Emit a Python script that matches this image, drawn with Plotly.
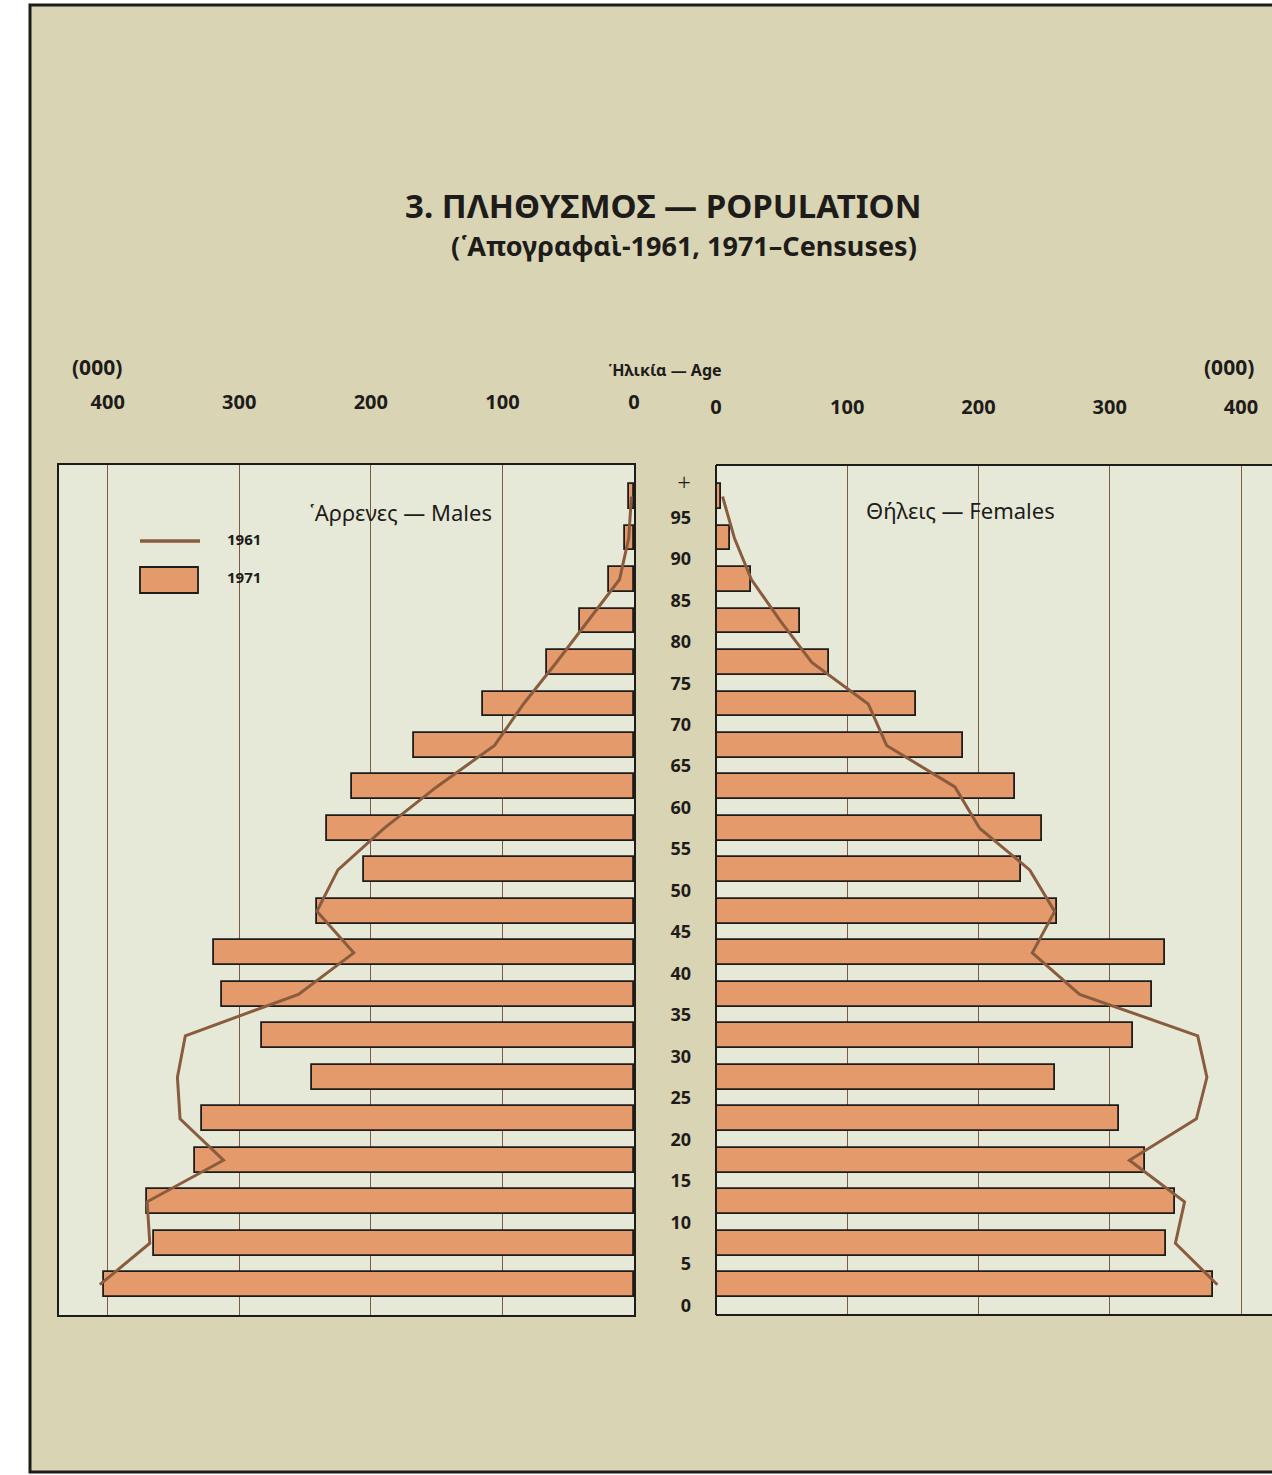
import plotly.graph_objects as go

# ---------------- data ----------------
age_groups = [2.5, 7.5, 12.5, 17.5, 22.5, 27.5, 32.5, 37.5, 42.5, 47.5,
              52.5, 57.5, 62.5, 67.5, 72.5, 77.5, 82.5, 87.5, 92.5, 97.5]
males_1971 = [403, 365, 370, 334, 328, 245, 283, 313, 319, 241,
              205, 233, 214, 167, 115, 66, 41, 19, 7, 4]
females_1971 = [379, 343, 350, 327, 307, 258, 318, 332, 342, 260,
                232, 248, 228, 188, 152, 86, 64, 27, 11, 4]
males_1961 = [406, 368, 370, 312, 345, 347, 341, 255, 213, 241,
              225, 190, 150, 106, 84, 59, 35, 11, 4, 2]
females_1961 = [382, 350, 357, 315, 366, 374, 367, 277, 241, 258,
                239, 201, 182, 130, 116, 73, 49, 27, 14, 5]
age_tick_vals = [0, 5, 10, 15, 20, 25, 30, 35, 40, 45, 50, 55, 60, 65, 70, 75, 80, 85, 90, 95, 98.9]
age_tick_text = ["0", "5", "10", "15", "20", "25", "30", "35", "40", "45", "50",
                 "55", "60", "65", "70", "75", "80", "85", "90", "95",
                 "<span style='font-size:24px;font-weight:300'>+</span>"]
pop_ticks = [0, 100, 200, 300, 400]
pop_tick_text = ["0", "100", "200", "300", "400"]

W, H = 1272, 1475
def px(x): return x / W
def py(y): return 1 - y / H

BG = "#d9d4b3"
PLOT_BG = "#e7e9d8"
BAR = "#e49a6b"
LINE61 = "#8a5c3e"
DARK = "#1e1c1a"
GRID = "#7d5a44"
FONT = "Noto Sans"

fig = go.Figure()

fig.add_trace(go.Bar(x=males_1971, y=age_groups, orientation="h", width=3.0,
                     marker=dict(color=BAR, line=dict(color=DARK, width=1.8)),
                     xaxis="x", yaxis="y", showlegend=False, name="1971"))
fig.add_trace(go.Bar(x=females_1971, y=age_groups, orientation="h", width=3.0,
                     marker=dict(color=BAR, line=dict(color=DARK, width=1.8)),
                     xaxis="x2", yaxis="y2", showlegend=False, name="1971"))
fig.add_trace(go.Scatter(x=males_1961, y=age_groups, mode="lines",
                         line=dict(color=LINE61, width=3), xaxis="x", yaxis="y",
                         showlegend=False, name="1961"))
fig.add_trace(go.Scatter(x=females_1961, y=age_groups, mode="lines",
                         line=dict(color=LINE61, width=3), xaxis="x2", yaxis="y2",
                         showlegend=False, name="1961"))

y_range = [-1.15, 101.3]
y_dom = [py(1315), py(465)]

tickfont = dict(family=FONT, size=20, color=DARK, weight="bold")

fig.update_layout(
    width=W, height=H,
    margin=dict(l=0, r=0, t=0, b=0, autoexpand=False),
    paper_bgcolor=BG,
    plot_bgcolor=PLOT_BG,
    bargap=0,
    xaxis=dict(domain=[px(59), px(634)], range=[437, 0], side="top",
               tickvals=pop_ticks, ticktext=pop_tick_text, ticks="",
               ticklabelstandoff=46, tickfont=tickfont, automargin=False,
               showgrid=True, gridcolor=GRID, gridwidth=1.2, zeroline=False,
               showline=True, mirror=True, linecolor=DARK, linewidth=2,
               anchor="y"),
    yaxis=dict(domain=y_dom, range=y_range, showticklabels=False, ticks="",
               showgrid=False, zeroline=False, automargin=False,
               showline=True, mirror=True, linecolor=DARK, linewidth=2,
               anchor="x"),
    xaxis2=dict(domain=[px(716), 1.0], range=[0, 423.6], side="top",
                tickvals=pop_ticks, ticktext=pop_tick_text, ticks="",
                ticklabelstandoff=46, tickfont=tickfont, automargin=False,
                showgrid=True, gridcolor=GRID, gridwidth=1.2, zeroline=False,
                showline=False, anchor="y2"),
    yaxis2=dict(domain=y_dom, range=y_range, matches="y",
                tickvals=age_tick_vals, ticktext=age_tick_text, ticks="",
                ticklabelstandoff=24, side="left", automargin=False,
                tickfont=dict(family=FONT, size=18, color=DARK, weight="bold"),
                showgrid=False, zeroline=False, showline=False, anchor="x2"),
)

shapes = []
# white page margins outside the printed sheet
shapes.append(dict(type="rect", xref="paper", yref="paper",
                   x0=-0.01, x1=px(30), y0=-0.01, y1=1.01,
                   fillcolor="white", line=dict(width=0)))
shapes.append(dict(type="rect", xref="paper", yref="paper",
                   x0=-0.01, x1=1.01, y0=py(5), y1=1.01,
                   fillcolor="white", line=dict(width=0)))
shapes.append(dict(type="rect", xref="paper", yref="paper",
                   x0=-0.01, x1=1.01, y0=-0.01, y1=py(1472),
                   fillcolor="white", line=dict(width=0)))
# frame
shapes.append(dict(type="rect", xref="paper", yref="paper",
                   x0=px(30), x1=1.02, y0=py(1472), y1=py(5),
                   line=dict(color=DARK, width=3)))
# right panel border (top, left, bottom)
for (x0, y0, x1, y1) in [(0, 1, 1, 1), (0, 0, 0, 1), (0, 0, 1, 0)]:
    shapes.append(dict(type="line", xref="x2 domain", yref="y2 domain",
                       x0=x0, y0=y0, x1=x1, y1=y1,
                       line=dict(color=DARK, width=2)))
# legend samples
shapes.append(dict(type="line", xref="paper", yref="paper",
                   x0=px(140), x1=px(200), y0=py(541), y1=py(541),
                   line=dict(color=LINE61, width=3.5)))
shapes.append(dict(type="rect", xref="paper", yref="paper",
                   x0=px(140), x1=px(198), y0=py(593), y1=py(567),
                   fillcolor=BAR, line=dict(color=DARK, width=1.8)))
fig.update_layout(shapes=shapes)

ann = []
def note(text, x, y, size, bold=False, xanchor="center"):
    ann.append(dict(text=text, x=px(x), y=py(y), xref="paper", yref="paper",
                    showarrow=False, xanchor=xanchor, yanchor="middle",
                    font=dict(family=FONT, size=size, color=DARK,
                              weight="bold" if bold else "normal")))

note("3. ΠΛΗΘΥΣΜΟΣ — POPULATION", 663, 205, 33, True)
note("(῾Απογραφαὶ-1961, 1971–Censuses)", 684, 245, 27, True)
note("(000)", 97, 367, 21, True)
note("(000)", 1229, 367, 21, True)
note("῾Ηλικία — Age", 665, 370, 16, True)
note("῾Αρρενες — Males", 400, 512, 22)
note("Θήλεις — Females", 960, 510, 22)
note("1961", 225, 539, 15, True, "left")
note("1971", 225, 577, 15, True, "left")
fig.update_layout(annotations=ann)

fig.write_html("out.html",
               config={"displayModeBar": False},
               post_script="document.body.style.margin='0';"
                           "document.documentElement.style.overflow='hidden';")
